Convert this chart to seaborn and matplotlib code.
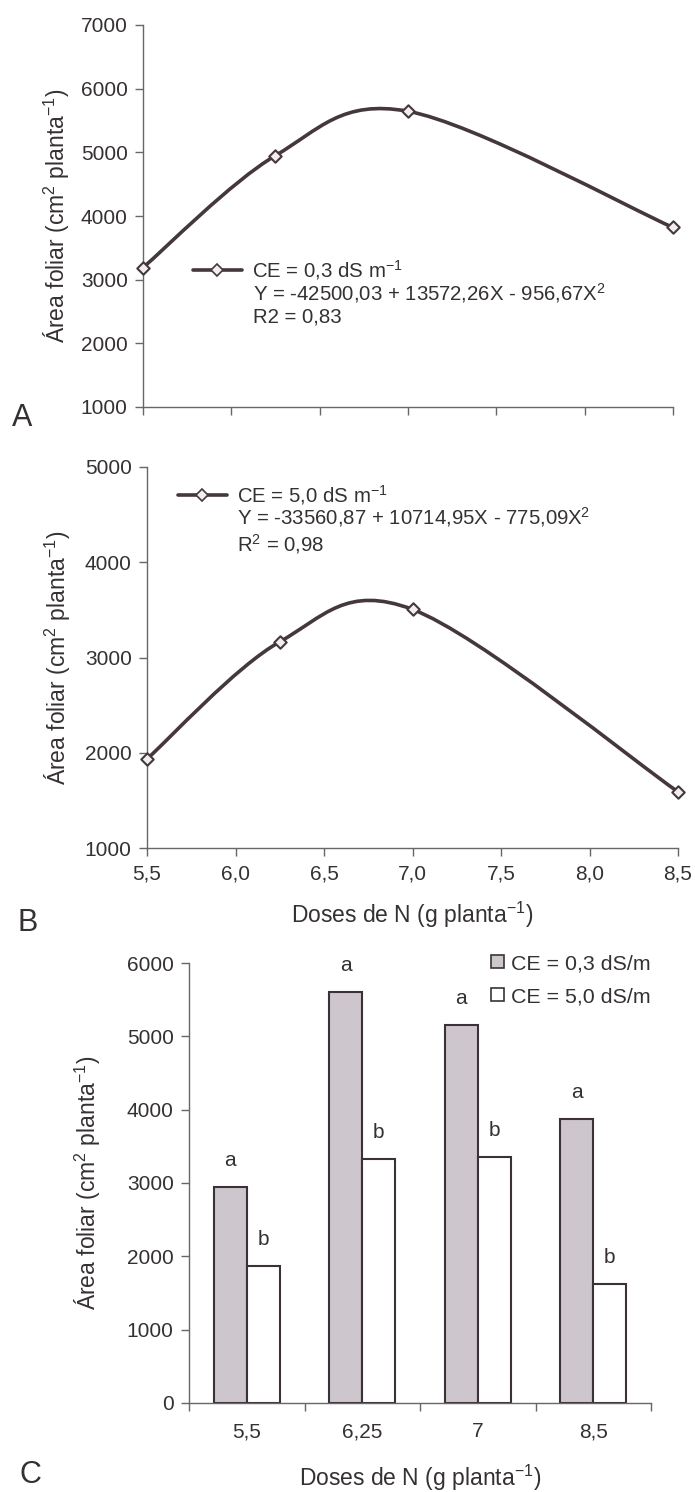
import numpy as np
import pandas as pd
import matplotlib
matplotlib.use("Agg")
import matplotlib.pyplot as plt
import seaborn as sns
from matplotlib.path import Path
from matplotlib.patches import PathPatch, Patch
from matplotlib.lines import Line2D

# ---------------- data ----------------
doses = [5.5, 6.25, 7.0, 8.5]
area_ce03 = [3190, 4950, 5645, 3820]
area_ce50 = [1935, 3165, 3505, 1590]

x_ticks = [5.5, 6.0, 6.5, 7.0, 7.5, 8.0, 8.5]
x_tick_labels = ["5,5", "6,0", "6,5", "7,0", "7,5", "8,0", "8,5"]
yticks_a = [1000, 2000, 3000, 4000, 5000, 6000, 7000]
yticks_b = [1000, 2000, 3000, 4000, 5000]
yticks_c = [0, 1000, 2000, 3000, 4000, 5000, 6000]

bar_doses = ["5,5", "6,25", "7", "8,5"]
bar_ce03 = [2950, 5610, 5150, 3870]
bar_ce50 = [1870, 3330, 3350, 1620]
letters_ce03 = ["a", "a", "a", "a"]
letters_ce50 = ["b", "b", "b", "b"]
bar_series = ["CE = 0,3 dS/m", "CE = 5,0 dS/m"]

legend_a = ["CE = 0,3 dS m$^{-1}$",
            "Y = -42500,03 + 13572,26X - 956,67X$^{2}$",
            "R2 = 0,83"]
legend_b = ["CE = 5,0 dS m$^{-1}$",
            "Y = -33560,87 + 10714,95X - 775,09X$^{2}$",
            "R$^{2}$ = 0,98"]

ylabel = "Área foliar (cm$^{2}$ planta$^{-1}$)"
xlabel = "Doses de N (g planta$^{-1}$)"

# ---------------- style ----------------
sns.set_style("ticks")
plt.rcParams["font.family"] = ["Liberation Sans", "DejaVu Sans"]
plt.rcParams["mathtext.fontset"] = "custom"
plt.rcParams["mathtext.rm"] = "Liberation Sans"
plt.rcParams["mathtext.it"] = "Liberation Sans"
plt.rcParams["mathtext.bf"] = "Liberation Sans"

TXT = "#353133"
LINE = "#45373e"
SPINE = "#6a6568"
GREY = "#cdc6cc"
FS_TICK = 15
FS_LAB = 16.5
FS_LEG = 14.7
FS_CLEG = 15.4
FS_LET = 15

fig = plt.figure(figsize=(6.95, 14.92), dpi=100)
W, H = 695.0, 1492.0


def add_axes(left, right, top, bottom):
    return fig.add_axes([left / W, 1 - bottom / H, (right - left) / W, (bottom - top) / H])


axA = add_axes(143, 673, 25, 407)
axB = add_axes(147, 678, 467, 848)
axC = add_axes(189, 651, 963, 1403)


def smooth_path(xs, ys):
    # Excel-like smoothed line (Bezier through the points)
    px = np.asarray(xs, float)
    py = np.asarray(ys, float)
    n = len(px)
    verts = [(px[0], py[0])]
    codes = [Path.MOVETO]
    for i in range(n - 1):
        i0 = max(i - 1, 0)
        i3 = min(i + 2, n - 1)
        c1 = (px[i] + (px[i + 1] - px[i0]) / 6, py[i] + (py[i + 1] - py[i0]) / 6)
        c2 = (px[i + 1] - (px[i3] - px[i]) / 6, py[i + 1] - (py[i3] - py[i]) / 6)
        verts += [c1, c2, (px[i + 1], py[i + 1])]
        codes += [Path.CURVE4] * 3
    return Path(verts, codes)


def style_axis(ax):
    for s in ["top", "right"]:
        ax.spines[s].set_visible(False)
    for s in ["left", "bottom"]:
        ax.spines[s].set_color(SPINE)
        ax.spines[s].set_linewidth(1.0)
    ax.tick_params(axis="both", colors=SPINE, labelcolor=TXT, labelsize=FS_TICK,
                   length=6, width=1.0, direction="out")


def line_panel(ax, ys, yticks, leg, hx, y1, tx, y2, y3):
    df = pd.DataFrame({"dose": doses, "area": ys})
    ax.add_patch(PathPatch(smooth_path(df["dose"], df["area"]), facecolor="none",
                           edgecolor=LINE, lw=2.6, zorder=2, clip_on=False))
    sns.scatterplot(data=df, x="dose", y="area", ax=ax, marker="D", s=40,
                    facecolor="#f2eef0", edgecolor=LINE, linewidth=1.5,
                    zorder=3, clip_on=False, legend=False)
    ax.set_xlim(5.5, 8.5)
    ax.set_ylim(yticks[0], yticks[-1])
    ax.set_xticks(x_ticks)
    ax.set_yticks(yticks)
    ax.set_yticklabels([str(v) for v in yticks])
    style_axis(ax)
    ax.tick_params(axis="y", pad=5)
    ax.set_ylabel(ylabel, fontsize=FS_LAB, color=TXT, va="center")
    handle = Line2D([], [], color=LINE, lw=2.6, marker="D", markersize=6,
                    markerfacecolor="#f2eef0", markeredgecolor=LINE, markeredgewidth=1.2)
    lg = ax.legend([handle], [leg[0]], loc="center left", bbox_to_anchor=(hx, y1),
                   frameon=False, fontsize=FS_LEG, borderpad=0, borderaxespad=0,
                   handlelength=2.4, handletextpad=0.5)
    for t in lg.get_texts():
        t.set_color(TXT)
    ax.text(tx, y2, leg[1], transform=ax.transAxes, fontsize=FS_LEG, color=TXT, va="center")
    ax.text(tx, y3, leg[2], transform=ax.transAxes, fontsize=FS_LEG, color=TXT, va="center")


# Panel A
line_panel(axA, area_ce03, yticks_a, legend_a, 0.094, 0.359, 0.2075, 0.298, 0.236)
axA.set_xticklabels([])
axA.set_xlabel("")
axA.yaxis.set_label_coords(-0.162, 0.5)

# Panel B
line_panel(axB, area_ce50, yticks_b, legend_b, 0.058, 0.9265, 0.1695, 0.869, 0.797)
axB.set_xticklabels(x_tick_labels)
axB.tick_params(axis="x", pad=6)
axB.set_xlabel(xlabel, fontsize=FS_LAB, color=TXT, va="center")
axB.xaxis.set_label_coords(0.5, -0.176)
axB.yaxis.set_label_coords(-0.168, 0.5)

# Panel C - bars
dfc = pd.DataFrame({
    "dose": bar_doses * 2,
    "area": bar_ce03 + bar_ce50,
    "ce": [bar_series[0]] * len(bar_doses) + [bar_series[1]] * len(bar_doses),
})
sns.barplot(data=dfc, x="dose", y="area", hue="ce", ax=axC, palette=[GREY, "white"],
            saturation=1, width=0.57, edgecolor="#3a3236", linewidth=1.5,
            errorbar=None, legend=False, zorder=2)
for cont, letters in zip(axC.containers, [letters_ce03, letters_ce50]):
    for bar, let in zip(cont, letters):
        axC.text(bar.get_x() + bar.get_width() / 2, bar.get_height() + 360, let,
                 ha="center", va="center", fontsize=FS_LET, color=TXT)
axC.set_xlim(-0.5, len(bar_doses) - 0.5)
axC.set_ylim(yticks_c[0], yticks_c[-1])
axC.set_yticks(yticks_c)
axC.set_yticklabels([str(v) for v in yticks_c])
style_axis(axC)
axC.tick_params(axis="y", pad=5)
axC.set_xticks(np.arange(-0.5, len(bar_doses), 1.0), minor=True)
axC.tick_params(axis="x", which="major", length=0, pad=14)
axC.tick_params(axis="x", which="minor", length=6, width=1.0, colors=SPINE, direction="out")
axC.set_ylabel(ylabel, fontsize=FS_LAB, color=TXT, va="center")
axC.yaxis.set_label_coords(-0.219, 0.5)
axC.set_xlabel(xlabel, fontsize=FS_LAB, color=TXT, va="center")
axC.xaxis.set_label_coords(0.5, -0.170)
handles = [Patch(facecolor=GREY, edgecolor="#3a3236", linewidth=1.2),
           Patch(facecolor="white", edgecolor="#3a3236", linewidth=1.2)]
lgc = axC.legend(handles, bar_series, loc="upper right", bbox_to_anchor=(1.0, 1.02),
                 frameon=False, fontsize=FS_CLEG, borderpad=0, borderaxespad=0,
                 handlelength=0.6, handleheight=0.6, handletextpad=0.35, labelspacing=0.65)
for t in lgc.get_texts():
    t.set_color(TXT)

# panel letters
fig.text(22 / W, 1 - 418 / H, "A", fontsize=22, color=TXT, ha="center", va="center")
fig.text(28 / W, 1 - 923 / H, "B", fontsize=22, color=TXT, ha="center", va="center")
fig.text(30 / W, 1 - 1490 / H, "C", fontsize=22, color=TXT, ha="center", va="bottom")

fig.savefig("out.png", dpi=100, facecolor="white")
